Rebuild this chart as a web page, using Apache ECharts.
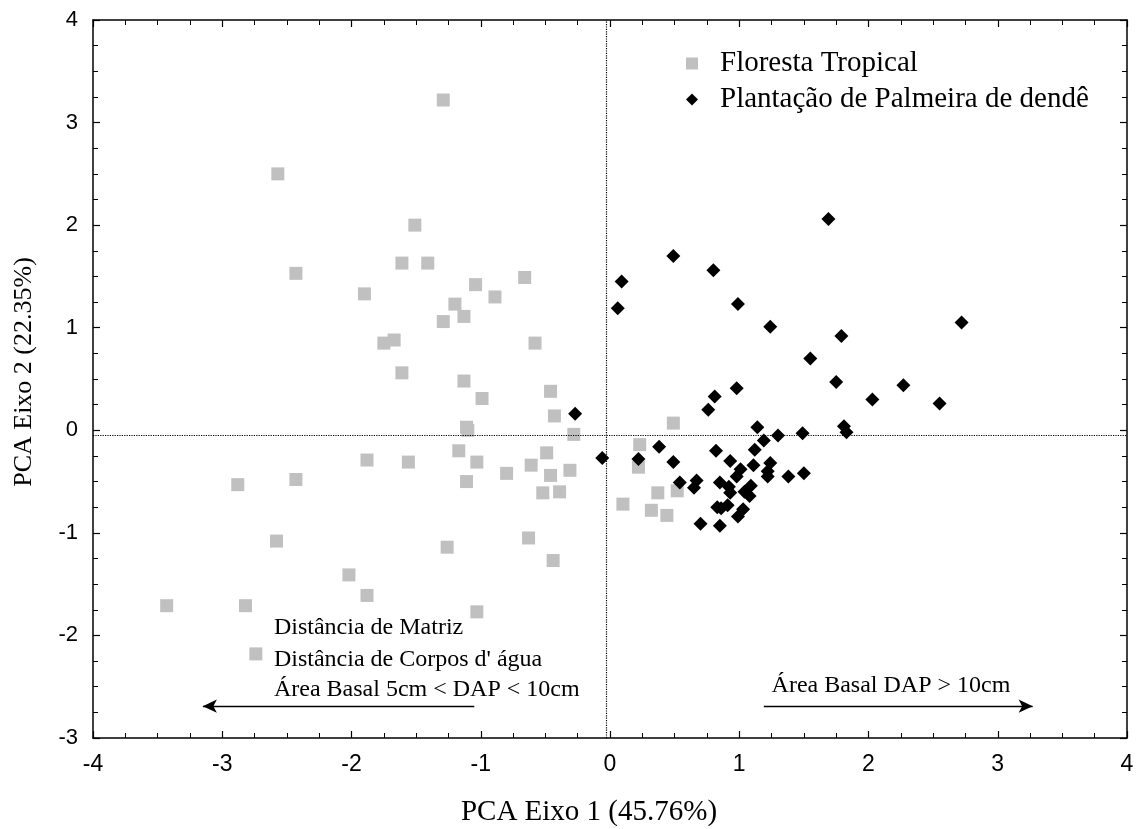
<!DOCTYPE html>
<html>
<head>
<meta charset="utf-8">
<script src="https://cdn.jsdelivr.net/npm/echarts@6/dist/echarts.min.js"></script>
<style>html,body{margin:0;padding:0;background:#fff;}#c{width:1138px;height:829px;}</style>
</head>
<body>
<div id="c"></div>
<script>
// Floresta Tropical (PCA axis 1, axis 2)
const floresta = [
  [-1.29,3.22],[-2.57,2.50],[-1.51,2.00],[-2.43,1.53],[-1.61,1.63],[-1.41,1.63],
  [-1.90,1.33],[-1.04,1.42],[-0.66,1.49],[-0.89,1.30],[-1.20,1.23],[-1.13,1.11],
  [-1.29,1.06],[-1.75,0.85],[-1.67,0.88],[-0.58,0.85],[-1.61,0.56],[-1.13,0.48],
  [-0.46,0.38],[-0.99,0.31],[-0.43,0.14],[-1.11,0.03],[-1.10,0.00],[-0.28,-0.04],
  [-1.17,-0.20],[-1.88,-0.29],[-1.56,-0.31],[-1.03,-0.31],[-0.49,-0.22],[-0.61,-0.34],
  [-0.80,-0.42],[-0.31,-0.39],[-0.46,-0.44],[-1.11,-0.50],[-0.52,-0.61],[-0.39,-0.60],
  [-2.88,-0.53],[-2.43,-0.48],[-2.58,-1.08],[-1.26,-1.14],[-0.63,-1.05],[-0.44,-1.27],
  [-2.02,-1.41],[-1.88,-1.61],[-3.43,-1.71],[-2.82,-1.71],[-1.03,-1.77],[-2.74,-2.18],
  [0.49,0.07],[0.23,-0.14],[0.22,-0.36],[0.37,-0.61],[0.52,-0.59],[0.10,-0.72],
  [0.32,-0.78],[0.44,-0.83]
];
// Plantação de Palmeira de dendê
const palmeira = [
  [1.69,2.06],[0.49,1.70],[0.09,1.45],[0.80,1.56],[0.06,1.19],[0.99,1.23],
  [1.24,1.01],[1.79,0.92],[2.72,1.05],[1.55,0.70],[1.75,0.47],[2.27,0.44],
  [0.98,0.41],[0.81,0.33],[0.76,0.20],[2.03,0.30],[2.55,0.26],[1.14,0.03],
  [1.81,0.04],[1.83,-0.02],[-0.27,0.16],[-0.06,-0.27],[1.19,-0.10],[1.30,-0.05],
  [1.49,-0.03],[0.38,-0.16],[0.22,-0.28],[0.49,-0.31],[0.82,-0.20],[0.93,-0.30],
  [1.12,-0.19],[1.11,-0.34],[1.24,-0.32],[1.22,-0.40],[1.22,-0.45],[1.01,-0.38],
  [0.98,-0.45],[1.38,-0.45],[1.50,-0.42],[0.54,-0.51],[0.67,-0.49],[0.65,-0.56],
  [0.85,-0.51],[0.92,-0.55],[0.93,-0.61],[1.09,-0.54],[1.04,-0.60],[1.08,-0.64],
  [0.83,-0.75],[0.86,-0.76],[0.91,-0.73],[1.03,-0.77],[0.99,-0.84],[0.70,-0.91],
  [0.85,-0.93]
];
const seriesNames = ['Floresta Tropical', 'Plantação de Palmeira de dendê'];
const xTitle = 'PCA Eixo 1 (45.76%)';
const yTitle = 'PCA Eixo 2 (22.35%)';
// annotation texts with anchor (left edge, vertical centre) in data units
const notes = [
  ['Distância de Matriz', -2.60, -1.92],
  ["Distância de Corpos d' água", -2.60, -2.24],
  ['Área Basal 5cm < DAP < 10cm', -2.60, -2.53],
  ['Área Basal DAP > 10cm', 1.25, -2.49]
];
// loading vectors (arrow start -> end) in data units
const arrows = [
  [[-1.05,-2.69],[-3.15,-2.69]],
  [[1.19,-2.69],[3.27,-2.69]]
];
const originLines = {x: -0.03, y: -0.05};

const chart = echarts.init(document.getElementById('c'), null, {renderer:'canvas'});
const serif = '"Liberation Serif", "Times New Roman", serif';
const sans = '"Liberation Sans", Arial, sans-serif';
const axisCommon = {
  interval: 1,
  axisLine: {show: true, onZero: false, lineStyle: {color: '#000', width: 1.5}},
  axisTick: {show: true, inside: true, length: 7, lineStyle: {color: '#000', width: 1.2}},
  minorTick: {show: true, splitNumber: 4, length: 5, lineStyle: {color: '#000', width: 1}},
  splitLine: {show: false}, minorSplitLine: {show: false}
};
function ax(extra) { return Object.assign({}, JSON.parse(JSON.stringify(axisCommon)), extra); }

chart.setOption({
  animation: false,
  backgroundColor: '#fff',
  grid: {left: 93, right: 11, top: 20, bottom: 91, containLabel: false, outerBoundsMode: 'none'},
  legend: {
    orient: 'vertical', left: 686, top: 49, itemGap: 7, padding: 0,
    itemWidth: 12, itemHeight: 12,
    data: [{name: seriesNames[0], icon: 'rect'}, {name: seriesNames[1], icon: 'diamond'}],
    textStyle: {fontFamily: serif, fontSize: 29, color: '#000', lineHeight: 29, padding: [0,0,0,17]}
  },
  xAxis: [
    ax({type: 'value', position: 'bottom', min: -4, max: 4,
      name: xTitle, nameLocation: 'middle', nameGap: 60,
      nameTextStyle: {fontFamily: serif, fontSize: 29, color: '#000', padding: [0,42,0,0]},
      axisLabel: {fontFamily: sans, fontSize: 23, color: '#000', margin: 15}}),
    ax({type: 'value', position: 'top', min: -4, max: 4, axisLabel: {show: false}})
  ],
  yAxis: [
    ax({type: 'value', position: 'left', min: -3, max: 4,
      name: yTitle, nameLocation: 'middle', nameGap: 56, nameRotate: 90,
      nameTextStyle: {fontFamily: serif, fontSize: 26, color: '#000', padding: [0,0,0,14]},
      axisLabel: {fontFamily: sans, fontSize: 22, color: '#000', margin: 15}}),
    ax({type: 'value', position: 'right', min: -3, max: 4, axisLabel: {show: false}})
  ],
  series: [
    {
      name: seriesNames[0], type: 'scatter', symbol: 'rect', symbolSize: 13,
      itemStyle: {color: '#c0c0c0', opacity: 1}, data: floresta, z: 2,
      markLine: {
        silent: true, symbol: 'none', animation: false,
        label: {show: false},
        lineStyle: {type: 'dotted', color: '#000', width: 1.2},
        data: [{xAxis: originLines.x}, {yAxis: originLines.y}]
      }
    },
    {
      name: seriesNames[1], type: 'scatter', symbol: 'diamond', symbolSize: 14,
      itemStyle: {color: '#000', opacity: 1}, data: palmeira, z: 3,
      markLine: {
        silent: true, symbol: ['none', 'arrow'], symbolSize: [10, 14], animation: false,
        label: {show: false},
        lineStyle: {type: 'solid', color: '#000', width: 1.3},
        data: arrows.map(a => [{coord: a[0]}, {coord: a[1]}])
      }
    },
    {
      name: 'notes', type: 'scatter', symbolSize: 0, silent: true, z: 4,
      itemStyle: {opacity: 1, color: '#000'},
      data: notes.map(n => ({value: [n[1], n[2]], name: n[0]})),
      label: {show: true, position: 'right', distance: 0, formatter: p => p.name,
        fontFamily: serif, fontSize: 24, color: '#000', opacity: 1}
    }
  ]
});
</script>
</body>
</html>
